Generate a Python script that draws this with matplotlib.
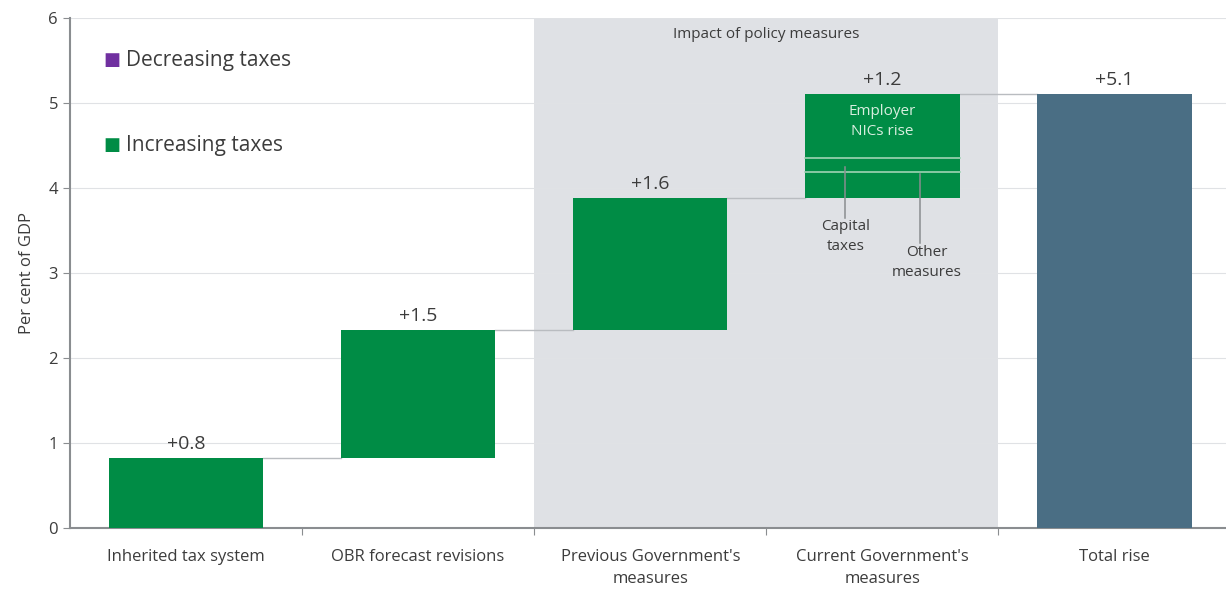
import matplotlib.pyplot as plt

plt.rcParams['font.family'] = ['Open Sans', 'DejaVu Sans']

categories = ["Inherited tax system", "OBR forecast revisions",
              "Previous Government's\nmeasures", "Current Government's\nmeasures",
              "Total rise"]
changes = [0.82, 1.51, 1.55, 1.22]
total = 5.1
value_labels = ["+0.8", "+1.5", "+1.6", "+1.2", "+5.1"]
# breakdown of current government's measures (bottom to top)
current_parts = [0.31, 0.16, 0.75]
current_part_names = ["Other measures", "Capital taxes", "Employer NICs rise"]

green = '#008c45'
purple = '#7030a0'
total_col = '#4a6e84'
shade = '#dfe1e5'
grey_txt = '#3c3c3c'

fig = plt.figure(figsize=(12.26, 5.92), dpi=100)
ax = fig.add_axes([0.057, 0.108, 0.943, 0.862])

w = 0.665
x = list(range(len(categories)))

ax.axvspan(1.5, 3.5, color=shade, zorder=0, lw=0)
for yy in range(1, 7):
    ax.axhline(yy, color='#e0e2e5', lw=0.8, zorder=0.5)

bottoms = []
b = 0
for i, c in enumerate(changes):
    bottoms.append(b)
    if i < 3:
        ax.bar(x[i], c, w, bottom=b, color=green, zorder=3)
    b += c

# current government's measures split into parts
pb = bottoms[3]
for p in current_parts:
    ax.bar(x[3], p, w, bottom=pb, color=green, zorder=3)
    pb += p
for edge in [bottoms[3] + current_parts[0], bottoms[3] + current_parts[0] + current_parts[1]]:
    ax.plot([x[3] - w / 2, x[3] + w / 2], [edge, edge], color='#9fd3b4', lw=1.2, zorder=4)

ax.bar(x[4], total, w, color=total_col, zorder=3)

# connectors
tops = [bottoms[i] + changes[i] for i in range(4)]
for i in range(4):
    ax.plot([x[i] + w / 2, x[i + 1] - w / 2], [tops[i], tops[i]],
            color='#b9bcc0', lw=1.0, zorder=2)

heights = tops + [total]
for i, lab in enumerate(value_labels):
    ax.text(x[i], heights[i] + 0.06, lab, ha='center', va='bottom',
            fontsize=14, color=grey_txt)

ax.text(3, 4.78, "Employer\nNICs rise", ha='center', va='center',
        fontsize=11, color='#d8eedf', zorder=5, linespacing=1.4)
# annotations for small parts
cap_y = bottoms[3] + current_parts[0] + current_parts[1] / 2
oth_y = bottoms[3] + current_parts[0] / 2
ax.plot([2.84, 2.84], [cap_y - 0.03, 3.65], color='#8a8d90', lw=1.1, zorder=5)
ax.plot([3.16, 3.16], [oth_y + 0.13, 3.35], color='#8a8d90', lw=1.1, zorder=5)
ax.text(2.84, 3.63, "Capital\ntaxes", ha='center', va='top', fontsize=11,
        color=grey_txt, linespacing=1.45)
ax.text(3.19, 3.33, "Other\nmeasures", ha='center', va='top', fontsize=11,
        color=grey_txt, linespacing=1.45)

ax.text(2.5, 5.8, "Impact of policy measures", ha='center', va='center',
        fontsize=11, color=grey_txt)

# legend
ax.text(-0.355, 5.5, "\u25A0", color=purple, fontsize=13, ha='left', va='center')
ax.text(-0.26, 5.5, "Decreasing taxes", color=grey_txt, fontsize=15, ha='left', va='center')
ax.text(-0.355, 4.5, "\u25A0", color=green, fontsize=13, ha='left', va='center')
ax.text(-0.26, 4.5, "Increasing taxes", color=grey_txt, fontsize=15, ha='left', va='center')

ax.set_xlim(-0.5, 4.48)
ax.set_ylim(0, 6)
ax.set_yticks(range(0, 7))
ax.set_xticks([0.5, 1.5, 2.5, 3.5])
ax.set_xticklabels([])
ax.set_xticks(x, minor=True)
ax.set_xticklabels(categories, minor=True, fontsize=12, color=grey_txt, linespacing=1.5)
ax.tick_params(axis='x', which='minor', length=0, pad=15)
ax.tick_params(axis='x', which='major', length=5, color='#8a8d90', direction='out')
ax.tick_params(axis='y', length=5, color='#8a8d90', labelsize=12, labelcolor=grey_txt)
ax.set_ylabel("Per cent of GDP", fontsize=12, color=grey_txt, labelpad=10)

for s in ['top', 'right']:
    ax.spines[s].set_visible(False)
for s in ['left', 'bottom']:
    ax.spines[s].set_color('#8a8d90')
    ax.spines[s].set_linewidth(1.5)

plt.savefig('out.png', dpi=100)
